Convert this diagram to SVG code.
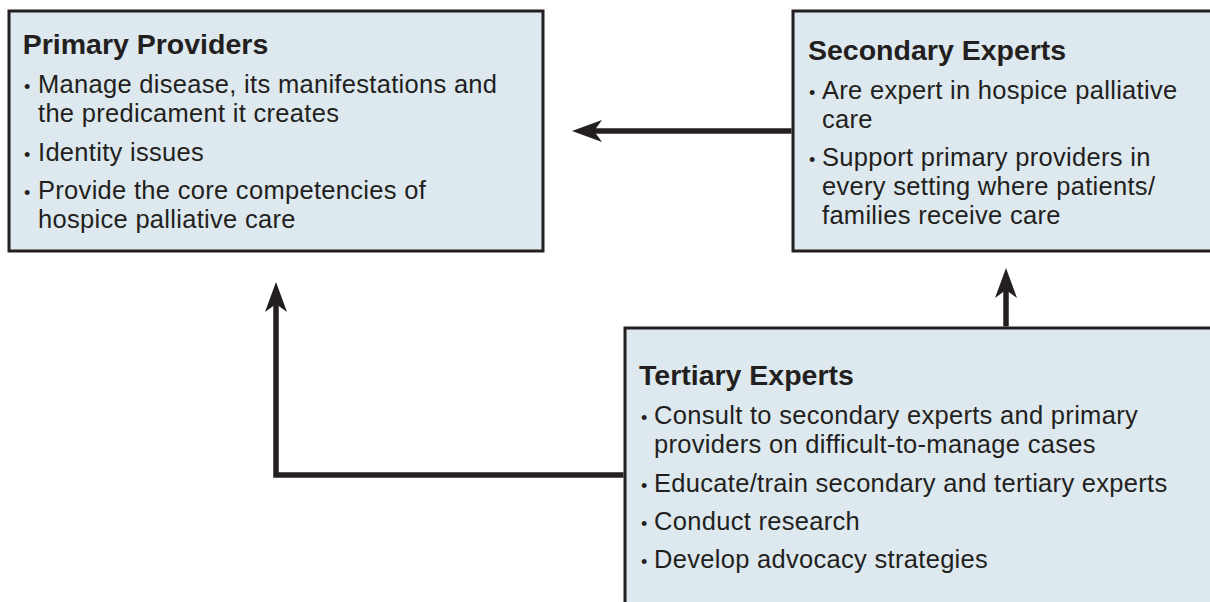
<svg xmlns="http://www.w3.org/2000/svg" width="1210" height="602" viewBox="0 0 1210 602">
<style>
.box{fill:#dde9ee;stroke:#231f20;stroke-width:3}
.t{font-family:"Liberation Sans",Arial,sans-serif;font-weight:bold;font-size:28.5px;fill:#231f20}
.b{font-family:"Liberation Sans",Arial,sans-serif;font-size:25.5px;letter-spacing:0.3px;fill:#231f20}
.d{font-size:18px;letter-spacing:0}
.ln{fill:none;stroke:#231f20;stroke-width:5.5;stroke-linejoin:miter;stroke-linecap:butt}
.ah{fill:#231f20;stroke:none}
</style>
<rect width="1210" height="602" fill="#ffffff"/>
<g id="primary">
<rect class="box" x="9" y="11" width="534" height="240"/>
<text class="t" x="22.7" y="54">Primary Providers</text>
<text class="b" y="93"><tspan class="d" x="24">•</tspan><tspan x="38">Manage disease, its manifestations and</tspan><tspan x="38" dy="29">the predicament it creates</tspan></text>
<text class="b" y="161"><tspan class="d" x="24">•</tspan><tspan x="38">Identity issues</tspan></text>
<text class="b" y="199"><tspan class="d" x="24">•</tspan><tspan x="38">Provide the core competencies of</tspan><tspan x="38" dy="29">hospice palliative care</tspan></text>
</g>
<g id="secondary">
<rect class="box" x="793" y="11" width="430" height="240"/>
<text class="t" x="808" y="59.5">Secondary Experts</text>
<text class="b" y="98.5"><tspan class="d" x="809">•</tspan><tspan x="822">Are expert in hospice palliative</tspan><tspan x="822" dy="29">care</tspan></text>
<text class="b" y="166"><tspan class="d" x="809">•</tspan><tspan x="822">Support primary providers in</tspan><tspan x="822" dy="29">every setting where patients/</tspan><tspan x="822" dy="29">families receive care</tspan></text>
</g>
<g id="tertiary">
<rect class="box" x="625" y="328" width="600" height="300"/>
<text class="t" x="639" y="385">Tertiary Experts</text>
<text class="b" y="424"><tspan class="d" x="641">•</tspan><tspan x="654">Consult to secondary experts and primary</tspan><tspan x="654" dy="29">providers on difficult-to-manage cases</tspan></text>
<text class="b" y="492"><tspan class="d" x="641">•</tspan><tspan x="654">Educate/train secondary and tertiary experts</tspan></text>
<text class="b" y="530"><tspan class="d" x="641">•</tspan><tspan x="654">Conduct research</tspan></text>
<text class="b" y="568"><tspan class="d" x="641">•</tspan><tspan x="654">Develop advocacy strategies</tspan></text>
</g>
<g id="connectors">
<line class="ln" x1="791.5" y1="131" x2="594" y2="131"/>
<polygon class="ah" points="572,131 602,120 594,131 602,142"/>
<line class="ln" x1="1006" y1="326.5" x2="1006" y2="290"/>
<polygon class="ah" points="1006,268 1017,298 1006,290 995,298"/>
<polyline class="ln" points="623.5,475 276,475 276,304"/>
<polygon class="ah" points="276,282 287,312 276,304 265,312"/>
</g>
</svg>
